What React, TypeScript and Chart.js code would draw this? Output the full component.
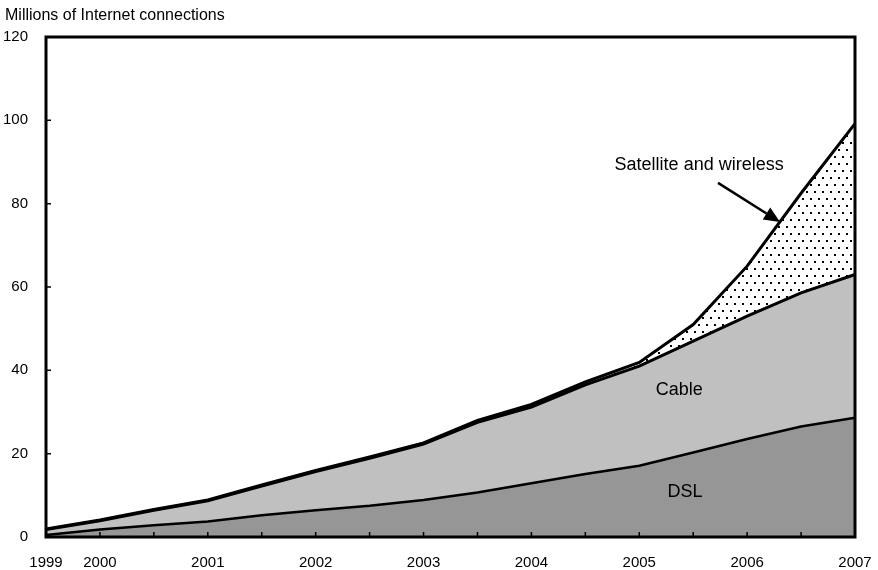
import React, { useEffect, useRef } from "react";
import { Chart, registerables } from "chart.js";

Chart.register(...registerables);

// Half-year observations: Dec 1999, Jun 2000, Dec 2000, ... Jun 2007
const categories = ["1999", "2000", "", "2001", "", "2002", "", "2003", "", "2004", "", "2005", "", "2006", "", "2007"];
const dslValues = [0.5, 1.8, 2.8, 3.7, 5.2, 6.4, 7.5, 8.9, 10.7, 12.9, 15.1, 17.1, 20.3, 23.5, 26.5, 28.6];
const cableValues = [1.3, 2.1, 3.6, 5.0, 7.0, 9.3, 11.4, 13.4, 16.8, 18.3, 21.4, 23.9, 26.7, 29.5, 32.1, 34.4];
const satelliteValues = [0.1, 0.2, 0.2, 0.2, 0.3, 0.3, 0.3, 0.3, 0.5, 0.6, 0.7, 0.9, 4.0, 12.0, 23.9, 36.2];
const yTicks = [0, 20, 40, 60, 80, 100, 120];

const FONT = "'Liberation Sans', Arial, sans-serif";

function makeDots(): CanvasPattern | string {
  const c = document.createElement("canvas");
  c.width = 8;
  c.height = 14;
  const g = c.getContext("2d");
  if (!g) return "#ffffff";
  g.fillStyle = "#ffffff";
  g.fillRect(0, 0, 8, 14);
  g.fillStyle = "#000000";
  g.fillRect(2, 2, 2, 2);
  g.fillRect(6, 9, 2, 2);
  const p = g.createPattern(c, "repeat");
  return p || "#ffffff";
}

const decorPlugin = {
  id: "decor",
  afterDatasetsDraw(chart: any) {
    const { ctx, chartArea } = chart;
    const xs = chart.scales.x;
    const ys = chart.scales.y;
    ctx.save();
    // inward tick marks
    ctx.strokeStyle = "#000";
    ctx.lineWidth = 1.5;
    ctx.beginPath();
    for (let i = 1; i < categories.length - 1; i++) {
      const px = xs.getPixelForTick(i);
      ctx.moveTo(px, chartArea.bottom);
      ctx.lineTo(px, chartArea.bottom - 5);
    }
    for (const v of yTicks) {
      const py = ys.getPixelForValue(v);
      ctx.moveTo(chartArea.left, py);
      ctx.lineTo(chartArea.left + 5, py);
    }
    ctx.stroke();
    // frame
    ctx.lineWidth = 3;
    ctx.strokeRect(chartArea.left, chartArea.top, chartArea.right - chartArea.left, chartArea.bottom - chartArea.top);

    // annotation labels
    ctx.fillStyle = "#000";
    ctx.font = `18px ${FONT}`;
    ctx.textAlign = "center";
    ctx.textBaseline = "middle";
    const xv = (v: number) => xs.getPixelForValue(v);
    ctx.fillText("Satellite and wireless", xv(12.11), ys.getPixelForValue(89.3));
    ctx.fillText("Cable", xv(11.74), ys.getPixelForValue(35.3));
    ctx.fillText("DSL", xv(11.85), ys.getPixelForValue(10.8));

    // arrow
    const x1 = xv(12.46), y1 = ys.getPixelForValue(85.0);
    const x2 = xv(13.61), y2 = ys.getPixelForValue(75.6);
    const ang = Math.atan2(y2 - y1, x2 - x1);
    const hl = 16, hw = 7;
    const bx = x2 - hl * Math.cos(ang), by = y2 - hl * Math.sin(ang);
    ctx.lineWidth = 2.5;
    ctx.beginPath();
    ctx.moveTo(x1, y1);
    ctx.lineTo(bx, by);
    ctx.stroke();
    ctx.beginPath();
    ctx.moveTo(x2, y2);
    ctx.lineTo(bx + hw * Math.sin(ang), by - hw * Math.cos(ang));
    ctx.lineTo(bx - hw * Math.sin(ang), by + hw * Math.cos(ang));
    ctx.closePath();
    ctx.fill();

    // axis title
    ctx.font = `16px ${FONT}`;
    ctx.textAlign = "left";
    ctx.textBaseline = "middle";
    ctx.fillText("Millions of Internet connections", 5, 16);
    ctx.restore();
  },
};

export default function App() {
  const ref = useRef<HTMLCanvasElement | null>(null);
  useEffect(() => {
    if (!ref.current) return;
    const dots = makeDots();
    const chart = new Chart(ref.current, {
      type: "line",
      data: {
        labels: categories,
        datasets: [
          {
            label: "DSL",
            data: dslValues,
            borderColor: "#000",
            borderWidth: 2.5,
            backgroundColor: "#969696",
            fill: "origin",
            pointRadius: 0,
            tension: 0,
          },
          {
            label: "Cable",
            data: cableValues,
            borderColor: "#000",
            borderWidth: 3,
            backgroundColor: "#c0c0c0",
            fill: "-1",
            pointRadius: 0,
            tension: 0,
          },
          {
            label: "Satellite and wireless",
            data: satelliteValues,
            borderColor: "#000",
            borderWidth: 3,
            backgroundColor: dots as any,
            fill: "-1",
            pointRadius: 0,
            tension: 0,
          },
        ],
      },
      options: {
        animation: false,
        responsive: true,
        maintainAspectRatio: false,
        layout: { padding: { left: 0, top: 37, right: 23, bottom: 0 } },
        plugins: {
          legend: { display: false },
          tooltip: { enabled: false },
          filler: { drawTime: "beforeDatasetsDraw" } as any,
        },
        scales: {
          x: {
            type: "category",
            offset: false,
            grid: { display: false, drawTicks: false },
            border: { display: false },
            ticks: {
              autoSkip: false,
              maxRotation: 0,
              minRotation: 0,
              padding: 17,
              color: "#000",
              font: { family: FONT, size: 15 },
            },
            afterFit: (s: any) => {
              s.height = 33;
              s.paddingLeft = 0;
              s.paddingRight = 0;
            },
          },
          y: {
            stacked: true,
            min: 0,
            max: 120,
            grid: { display: false, drawTicks: false },
            border: { display: false },
            ticks: {
              stepSize: 20,
              padding: 18,
              color: "#000",
              font: { family: FONT, size: 15 },
            },
            afterFit: (s: any) => {
              s.width = 46;
              s.paddingTop = 0;
              s.paddingBottom = 0;
            },
          },
        },
      },
      plugins: [decorPlugin],
    });
    return () => chart.destroy();
  }, []);
  return (
    <div style={{ position: "fixed", left: 0, top: 0, width: 878, height: 570, background: "#fff" }}>
      <canvas ref={ref} />
    </div>
  );
}
